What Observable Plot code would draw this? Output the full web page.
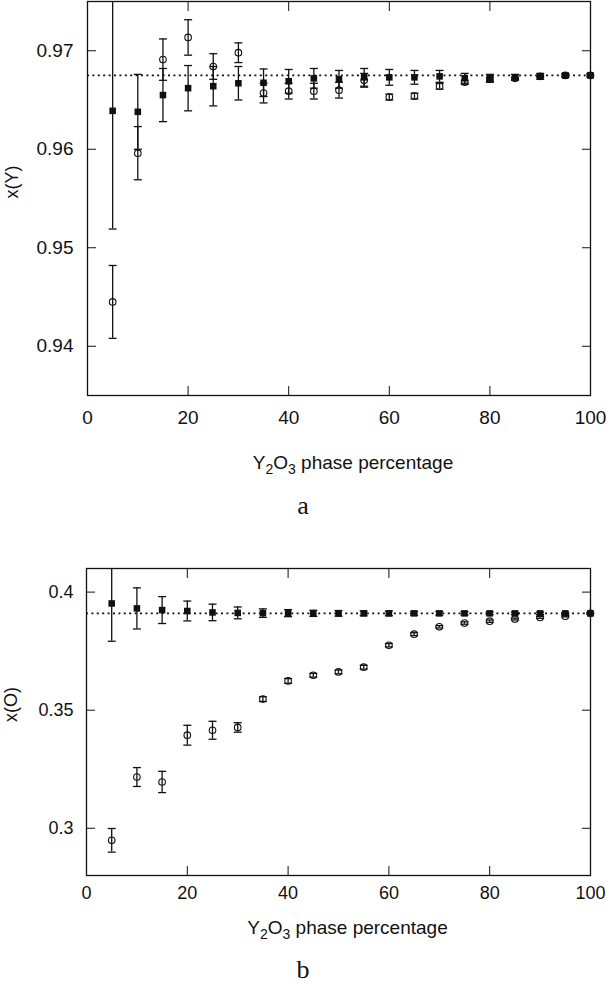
<!DOCTYPE html>
<html>
<head>
<meta charset="utf-8">
<script src="https://cdn.jsdelivr.net/npm/d3@7"></script>
<script src="https://cdn.jsdelivr.net/npm/@observablehq/plot@0.6"></script>
<style>
  html, body { margin: 0; padding: 0; background: #fff; }
  #wrap { position: relative; width: 606px; height: 986px; overflow: hidden; }
  #wrap svg { position: absolute; left: 0; background: transparent; }
  .cap { position: absolute; width: 606px; height: 22px; text-align: center; font-family: "Liberation Serif", "Times New Roman", serif; font-size: 26px; color: #111; line-height: 22px; }
</style>
</head>
<body>
<div id="wrap"></div>
<script>
// ---- data ----
const phasePct = [5, 10, 15, 20, 25, 30, 35, 40, 45, 50, 55, 60, 65, 70, 75, 80, 85, 90, 95, 100];

// panel a: x(Y)
const xY_filled    = [0.9639, 0.9638, 0.9655, 0.9662, 0.9664, 0.9667, 0.96675, 0.9669, 0.9672, 0.9671, 0.9673, 0.9673, 0.9673, 0.9674, 0.9672, 0.9672, 0.9673, 0.9674, 0.9675, 0.9675];
const xY_filledErr = [0.012, 0.0038, 0.0027, 0.0023, 0.0020, 0.0017, 0.0014, 0.0012, 0.0010, 0.0009, 0.0009, 0.0008, 0.0007, 0.0006, 0.0005, 0.0004, 0.0003, 0.0003, 0.0002, 0.0002];
const xY_open      = [0.9445, 0.9596, 0.9691, 0.97135, 0.9684, 0.9698, 0.9657, 0.9659, 0.9659, 0.9660, 0.9670, 0.9653, 0.9654, 0.9664, 0.9668, 0.9671, 0.9672, 0.9674, 0.9675, 0.9675];
const xY_openErr   = [0.0037, 0.0027, 0.0021, 0.0018, 0.0013, 0.0010, 0.0010, 0.0008, 0.0008, 0.0008, 0.0007, 0.0003, 0.0003, 0.0003, 0.0002, 0.0002, 0.0001, 0.0001, 0.0001, 0.0001];
const xY_reference = 0.9675;

// panel b: x(O)
const xO_filled    = [0.3952, 0.3931, 0.3924, 0.3920, 0.3914, 0.3912, 0.3911, 0.3911, 0.3910, 0.3910, 0.3910, 0.3910, 0.3910, 0.3910, 0.3910, 0.3910, 0.3910, 0.3910, 0.3910, 0.3910];
const xO_filledErr = [0.016, 0.0087, 0.0057, 0.0042, 0.0035, 0.0025, 0.0018, 0.0015, 0.0013, 0.0012, 0.0010, 0.0010, 0.0008, 0.0008, 0.0007, 0.0006, 0.0005, 0.0005, 0.0004, 0.0004];
const xO_open      = [0.2949, 0.3217, 0.3196, 0.3394, 0.3415, 0.3427, 0.3547, 0.3624, 0.3648, 0.3662, 0.3682, 0.3775, 0.3822, 0.3853, 0.3869, 0.3877, 0.3886, 0.3893, 0.3898, 0.3910];
const xO_openErr   = [0.0050, 0.0040, 0.0045, 0.0042, 0.0038, 0.0020, 0.0010, 0.0010, 0.0008, 0.0008, 0.0008, 0.0007, 0.0006, 0.0005, 0.0005, 0.0005, 0.0004, 0.0004, 0.0003, 0.0003];
const xO_reference = 0.391;

// ticks and labels
const xTicks = [0, 20, 40, 60, 80, 100];
const xTickLabels = ["0", "20", "40", "60", "80", "100"];
const yTicksA = [0.94, 0.95, 0.96, 0.97];
const yTickLabelsA = ["0.94", "0.95", "0.96", "0.97"];
const yTicksB = [0.3, 0.35, 0.4];
const yTickLabelsB = ["0.3", "0.35", "0.4"];
const xTitle = "Y2O3 phase percentage";
const yTitleA = "x(Y)";
const yTitleB = "x(O)";
const captions = ["a", "b"];

// ---- build ----
const capSymbol = {draw(ctx, size) { const r = Math.sqrt(size / Math.PI); ctx.moveTo(-r, 0); ctx.lineTo(r, 0); }};

function rows(ys, es) { return phasePct.map((x, i) => ({x, y: ys[i], e: es[i]})); }

function panel({top, height, mt, mb, ml, filled, open, ref, yDomain, yTicks, yLabels, fontSize, padX, padY, titleDy, titleDx, yTitle}) {
  const F = rows(filled.v, filled.e);
  const O = rows(open.v, open.e);
  const errMarks = (data) => [
    Plot.ruleX(data, {x: "x", y1: d => d.y - d.e, y2: d => d.y + d.e, stroke: "#111", strokeWidth: 1.3, clip: true}),
    Plot.dot(data, {x: "x", y: d => d.y - d.e, r: 4, symbol: capSymbol, stroke: "#111", strokeWidth: 1.3, fill: "none", clip: true}),
    Plot.dot(data, {x: "x", y: d => d.y + d.e, r: 4, symbol: capSymbol, stroke: "#111", strokeWidth: 1.3, fill: "none", clip: true})
  ];
  const svg = Plot.plot({
    width: 606, height,
    marginTop: mt, marginBottom: mb, marginLeft: ml, marginRight: 16,
    x: {domain: [0, 100]},
    y: {domain: yDomain},
    style: {fontFamily: "'Liberation Sans', Arial, sans-serif", fontSize: fontSize + "px", color: "#111", background: "transparent"},
    marks: [
      Plot.ruleY([ref], {stroke: "#111", strokeWidth: 1.6, strokeDasharray: "2,3.4"}),
      ...errMarks(O),
      Plot.dot(O, {x: "x", y: "y", r: 3.3, stroke: "#111", strokeWidth: 1.1, fill: "none"}),
      ...errMarks(F),
      Plot.dot(F, {x: "x", y: "y", r: 3.7, symbol: "square", fill: "#111", stroke: "none"}),
      Plot.frame({stroke: "#111", strokeWidth: 1.3}),
      Plot.axisX(xTicks, {anchor: "bottom", tickSize: -9, tickPadding: padX, label: null, tickFormat: d => xTickLabels[xTicks.indexOf(d)]}),
      Plot.axisX(xTicks, {anchor: "top", tickSize: -9, label: null, tickFormat: () => ""}),
      Plot.axisY(yTicks, {anchor: "left", tickSize: -9, tickPadding: padY, label: null, tickFormat: d => yLabels[yTicks.indexOf(d)]}),
      Plot.axisY(yTicks, {anchor: "right", tickSize: -9, label: null, tickFormat: () => ""}),
      Plot.text([xTitle], {frameAnchor: "bottom", dy: titleDy, dx: titleDx, lineAnchor: "middle", fontSize: 19, fill: "#111"}),
      Plot.text([yTitle], {frameAnchor: "left", dx: -75, rotate: -90, lineAnchor: "middle", fontSize: 18, fill: "#111"})
    ]
  });
  svg.style.top = top + "px";
  // subscripts in the x title
  d3.select(svg).selectAll("text").filter(function () { return this.textContent === xTitle; }).each(function () {
    const t = d3.select(this);
    t.text(null);
    t.append("tspan").text("Y");
    t.append("tspan").attr("dy", 5).attr("font-size", "14px").text("2");
    t.append("tspan").attr("dy", -5).text("O");
    t.append("tspan").attr("dy", 5).attr("font-size", "14px").text("3");
    t.append("tspan").attr("dy", -5).text("\u00a0phase\u00a0percentage");
  });
  return svg;
}

const wrap = document.getElementById("wrap");
wrap.appendChild(panel({
  top: 0, height: 480, mt: 1, mb: 85, ml: 87,
  filled: {v: xY_filled, e: xY_filledErr}, open: {v: xY_open, e: xY_openErr}, ref: xY_reference,
  yDomain: [0.935, 0.975], yTicks: yTicksA, yLabels: yTickLabelsA, fontSize: 19,
  padX: 24, padY: 23, titleDy: 67, titleDx: 14, yTitle: yTitleA
}));
wrap.appendChild(panel({
  top: 540, height: 446, mt: 28, mb: 111, ml: 86,
  filled: {v: xO_filled, e: xO_filledErr}, open: {v: xO_open, e: xO_openErr}, ref: xO_reference,
  yDomain: [0.28, 0.41], yTicks: yTicksB, yLabels: yTickLabelsB, fontSize: 18,
  padX: 20, padY: 22, titleDy: 52, titleDx: 9, yTitle: yTitleB
}));
const capA = document.createElement("div");
capA.className = "cap"; capA.style.top = "495px"; capA.textContent = captions[0];
const capB = document.createElement("div");
capB.className = "cap"; capB.style.top = "959px"; capB.textContent = captions[1];
wrap.appendChild(capA); wrap.appendChild(capB);
</script>
</body>
</html>
